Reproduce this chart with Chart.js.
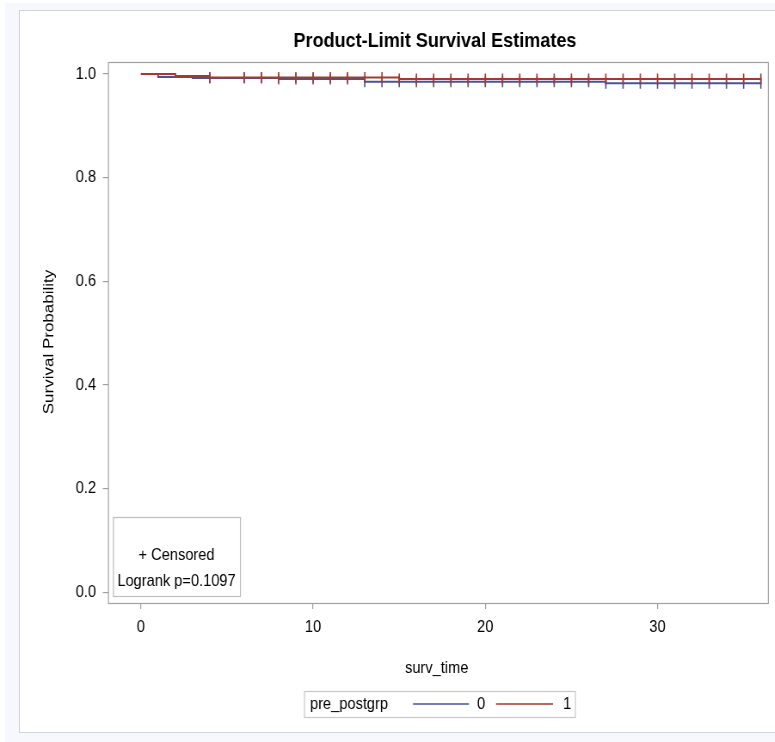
<!DOCTYPE html>
<html>
<head>
<meta charset="utf-8">
<script src="https://cdn.jsdelivr.net/npm/chart.js@4.4.0/dist/chart.umd.min.js"></script>
<style>
  html, body { margin: 0; padding: 0; background: #fff; }
  body { width: 775px; height: 742px; position: relative; overflow: hidden; }
  #outer { position: absolute; left: 5px; top: 3px; width: 770px; height: 739px; background: #f7f8fd; }
  #panel { position: absolute; left: 19px; top: 10px; width: 770px; height: 721px; background: #fff; border: 1px solid #d4d4d4; }
  #wrap { position: absolute; left: 0; top: 0; width: 901px; height: 742px; transform: scaleX(0.86); transform-origin: 0 0; }
</style>
</head>
<body>
<div id="outer"></div>
<div id="panel"></div>
<div id="wrap"><canvas id="kmChart" width="901" height="742"></canvas></div>
<script>
// step points of the Kaplan-Meier curves (time where the drop happens, survival after it)
const timesGrp0 = [0, 1, 3, 8, 13, 27, 36];
const survGrp0  = [1.0, 0.994, 0.992, 0.990, 0.985, 0.982, 0.982];
const timesGrp1 = [0, 2, 4, 15, 36];
const survGrp1  = [1.0, 0.996, 0.993, 0.990, 0.990];

// censored observation times
const censorGrp0 = [4, 6, 7, 8, 9, 10, 11, 12, 13, 14, 15, 16, 17, 18, 19, 20, 21, 22, 23, 24, 25, 26, 27, 28, 29, 30, 31, 32, 33, 34, 35, 36];
const censorGrp1 = [4, 6, 7, 8, 9, 10, 11, 12, 13, 14, 15, 16, 17, 18, 19, 20, 21, 22, 23, 24, 25, 26, 27, 28, 29, 30, 31, 32, 33, 34, 35, 36];

const xTicks = [0, 10, 20, 30];
const yTicks = [0.0, 0.2, 0.4, 0.6, 0.8, 1.0];
const groupLabels = ["0", "1"];
const logrankText = "Logrank p=0.1097";

const BLUE = "#445694";
const RED = "#A23A2E";
const FONT = "'Liberation Sans', Arial, sans-serif";
const K = 0.86; // horizontal squeeze of the wrapper

function survAt(times, surv, t) {
    let s = surv[0];
    for (let i = 0; i < times.length; i++) {
        if (times[i] <= t) s = surv[i];
    }
    return s;
}

const toPts = (times, surv) => times.map((t, i) => ({ x: t, y: surv[i] }));
const censorPts = (ct, times, surv) => ct.map(t => ({ x: t, y: survAt(times, surv, t) }));

const decor = {
    id: "decor",
    afterDraw(chart) {
        const ctx = chart.ctx;
        const a = chart.chartArea;
        ctx.save();
        // plot frame
        ctx.strokeStyle = "#a0a0a0";
        ctx.lineWidth = 1.2;
        ctx.strokeRect(a.left + 0.5, a.top + 0.5, a.right - a.left - 1, a.bottom - a.top);

        // title
        ctx.fillStyle = "#000";
        ctx.font = "bold 21px " + FONT;
        ctx.textAlign = "center";
        ctx.textBaseline = "alphabetic";
        ctx.fillText("Product-Limit Survival Estimates", (a.left + a.right) / 2 - 4, 47);

        // axis titles
        ctx.font = "17px " + FONT;
        ctx.textBaseline = "middle";
        ctx.fillText("surv_time", (a.left + a.right) / 2 - 2, 668);
        ctx.save();
        ctx.translate(49 / K, 342);
        ctx.rotate(-Math.PI / 2);
        ctx.fillText("Survival Probability", 0, 0);
        ctx.restore();

        // inset box
        const bx0 = 113 / K, bx1 = 240 / K, by0 = 517, by1 = 596;
        ctx.fillStyle = "#fff";
        ctx.fillRect(bx0, by0, bx1 - bx0, by1 - by0);
        ctx.strokeStyle = "#bdbdbd";
        ctx.lineWidth = 1.2;
        ctx.strokeRect(bx0 + 0.5, by0 + 0.5, bx1 - bx0, by1 - by0);
        ctx.fillStyle = "#000";
        ctx.font = "17px " + FONT;
        ctx.fillText("+ Censored", (bx0 + bx1) / 2, 555);
        ctx.fillText(logrankText, (bx0 + bx1) / 2, 581);

        // legend
        const lx0 = 304 / K, lx1 = 575 / K, ly0 = 691, ly1 = 717, ly = 704;
        ctx.strokeStyle = "#c8c8c8";
        ctx.strokeRect(lx0 + 0.5, ly0 + 0.5, lx1 - lx0, ly1 - ly0);
        ctx.textAlign = "left";
        ctx.font = "17px " + FONT;
        ctx.fillText("pre_postgrp", 310 / K, ly);
        ctx.lineWidth = 1.5;
        ctx.strokeStyle = BLUE;
        ctx.beginPath(); ctx.moveTo(413 / K, ly); ctx.lineTo(469 / K, ly); ctx.stroke();
        ctx.fillText(groupLabels[0], 477 / K, ly);
        ctx.strokeStyle = RED;
        ctx.beginPath(); ctx.moveTo(496 / K, ly); ctx.lineTo(553 / K, ly); ctx.stroke();
        ctx.fillText(groupLabels[1], 563 / K, ly);
        ctx.restore();
    }
};

const ctx = document.getElementById("kmChart").getContext("2d");

new Chart(ctx, {
    type: "scatter",
    data: {
        datasets: [
            {
                label: groupLabels[1],
                data: toPts(timesGrp1, survGrp1),
                showLine: true,
                stepped: true,
                borderColor: RED,
                borderWidth: 2,
                pointRadius: 0,
                order: 1
            },
            {
                label: "Censored " + groupLabels[1],
                data: censorPts(censorGrp1, timesGrp1, survGrp1),
                showLine: false,
                pointStyle: "line",
                rotation: 90,
                pointRadius: 5.5,
                borderColor: RED,
                borderWidth: 1.6,
                order: 2
            },
            {
                label: groupLabels[0],
                data: toPts(timesGrp0, survGrp0),
                showLine: true,
                stepped: true,
                borderColor: BLUE,
                borderWidth: 2,
                pointRadius: 0,
                order: 3
            },
            {
                label: "Censored " + groupLabels[0],
                data: censorPts(censorGrp0, timesGrp0, survGrp0),
                showLine: false,
                pointStyle: "line",
                rotation: 90,
                pointRadius: 5.5,
                borderColor: BLUE,
                borderWidth: 1.6,
                order: 4
            }
        ]
    },
    options: {
        responsive: false,
        animation: false,
        devicePixelRatio: 1,
        layout: { padding: { top: 62, right: 901 - 770 / K, bottom: 0, left: 0 } },
        plugins: {
            legend: { display: false },
            tooltip: { enabled: false },
            title: { display: false }
        },
        scales: {
            x: {
                type: "linear",
                min: -1.91,
                max: 36.46,
                afterBuildTicks: s => { s.ticks = xTicks.map(v => ({ value: v })); },
                afterFit: s => { s.height = 742 - 603; },
                grid: { drawOnChartArea: false, drawTicks: true, tickLength: 6, color: "#a0a0a0", lineWidth: 1.2 },
                border: { display: false },
                ticks: { color: "#000", font: { family: FONT, size: 17 }, padding: 8, maxRotation: 0 }
            },
            y: {
                type: "linear",
                min: -0.021,
                max: 1.023,
                afterBuildTicks: s => { s.ticks = yTicks.map(v => ({ value: v })); },
                afterFit: s => { s.width = 108 / K; },
                grid: { drawOnChartArea: false, drawTicks: true, tickLength: 6, color: "#a0a0a0", lineWidth: 1.2 },
                border: { display: false },
                ticks: { color: "#000", font: { family: FONT, size: 17 }, padding: 8, callback: v => v.toFixed(1) }
            }
        }
    },
    plugins: [decor]
});
</script>
</body>
</html>
